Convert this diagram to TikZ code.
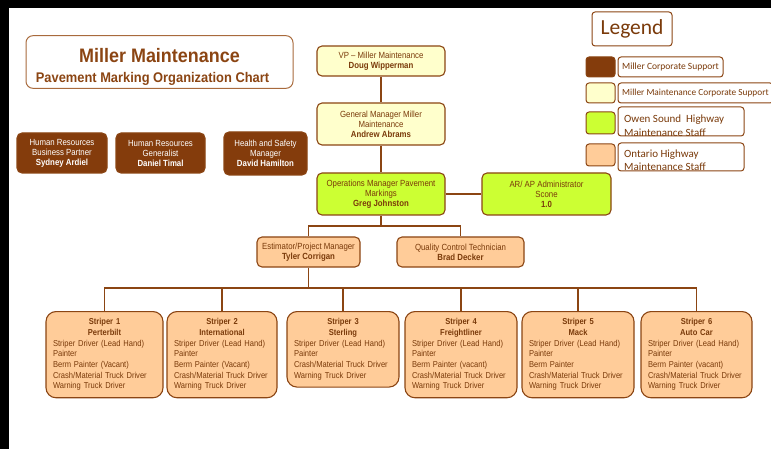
\documentclass[tikz,border=0pt]{standalone}
\usepackage{fontspec}
\setmainfont{Liberation Sans}[FakeStretch=0.88]
\newfontfamily\headfont{Liberation Sans}[FakeStretch=0.92]
\newfontfamily\legendfont{Carlito}
\usepackage{tikz}
\usetikzlibrary{calc}

\definecolor{darkbrown}{HTML}{843C0C}
\definecolor{linebrown}{HTML}{8B4513}
\definecolor{txtbrown}{HTML}{7A3A0A}
\definecolor{framebrown}{HTML}{A86A3C}
\definecolor{paleyellow}{HTML}{FFFFCC}
\definecolor{limegreen}{HTML}{CCFF33}
\definecolor{peach}{HTML}{FFCC99}

\newcommand{\crewhead}[2]{{\centering\bfseries #1\\#2\par}}

\begin{document}
\begin{tikzpicture}[x=1pt, y=-1pt,
    box/.style={draw=linebrown, line width=1.1pt, rounded corners=5pt, text=txtbrown,
        font=\fontsize{8.9}{10}\selectfont, align=center, inner sep=1pt},
    vpbox/.style={box, fill=paleyellow, minimum width=128pt},
    opsbox/.style={box, fill=limegreen, minimum height=42pt},
    hrbox/.style={box, fill=darkbrown, text=white},
    techbox/.style={box, fill=peach, minimum height=30pt},
    crewbox/.style={box, fill=peach, rounded corners=10pt, anchor=north, align=left,
        font=\fontsize{8.6}{10.7}\selectfont, inner xsep=7pt, inner ysep=7pt},
    swatch/.style={draw=linebrown, line width=1pt, rounded corners=3pt, minimum width=29pt},
    legbox/.style={draw=linebrown, line width=1pt, rounded corners=3pt, fill=white},
    legtext/.style={text=txtbrown, align=left, inner sep=0pt},
    link/.style={draw=linebrown, line width=1.2pt}
]
    \useasboundingbox (0,0) rectangle (771,449);
    \fill[black] (0,0) rectangle (771,8);
    \fill[black] (0,0) rectangle (9,449);

    % title
    \node[draw=framebrown, line width=1pt, rounded corners=7pt, text=linebrown, align=center,
        minimum width=267pt, minimum height=52pt] (title) at (159.5,62)
        {{\headfont\bfseries\fontsize{19.5}{21}\selectfont\rule{0pt}{23pt}Miller Maintenance}\\[8pt]
         {\headfont\bfseries\fontsize{14}{16}\selectfont Pavement Marking Organization Chart\hspace*{14pt}}};

    % management chain
    \node[vpbox, minimum height=30pt] (vp) at (381,61) {VP -- Miller Maintenance\\\textbf{Doug Wipperman}};
    \node[vpbox, minimum height=42pt] (gm) at (381,124) {General Manager Miller\\Maintenance\\\textbf{Andrew Abrams}};
    \node[opsbox, minimum width=128pt] (ops) at (381,194) {Operations Manager Pavement\\Markings\\\textbf{Greg Johnston}};
    \node[opsbox, minimum width=129pt] (ar) at (546.5,194) {AR/ AP Administrator\\Scone\\\textbf{1.0}};
    \node[techbox, minimum width=103pt] (est) at (308.5,252) {Estimator/Project Manager\\\textbf{Tyler Corrigan}};
    \node[techbox, minimum width=127pt] (qc) at (460.5,252) {Quality Control Technician\\\textbf{Brad Decker}};

    % corporate support
    \node[hrbox, minimum width=90pt, minimum height=40pt] (hr1) at (62,153) {Human Resources\\Business Partner\\\textbf{Sydney Ardiel}};
    \node[hrbox, minimum width=89pt, minimum height=40pt] (hr2) at (160.5,153) {Human Resources\\Generalist\\\textbf{Daniel Timal}};
    \node[hrbox, minimum width=83pt, minimum height=43pt] (hs) at (265.5,153.5) {Health and Safety\\Manager\\\textbf{David Hamilton}};

    % striper crews
    \node[crewbox, text width=103pt] (s1) at (104.5,311) {\crewhead{Striper 1}{Perterbilt}
        Striper Driver (Lead Hand)\\Painter\\Berm Painter (Vacant)\\Crash/Material Truck Driver\\Warning Truck Driver};
    \node[crewbox, text width=96pt] (s2) at (222,311) {\crewhead{Striper 2}{International}
        Striper Driver (Lead Hand)\\Painter\\Berm Painter (Vacant)\\Crash/Material Truck Driver\\Warning Truck Driver};
    \node[crewbox, text width=98pt] (s3) at (343,311) {\crewhead{Striper 3}{Sterling}
        Striper Driver (Lead Hand)\\Painter\\Crash/Material Truck Driver\\Warning Truck Driver};
    \node[crewbox, text width=98pt] (s4) at (461,311) {\crewhead{Striper 4}{Freightliner}
        Striper Driver (Lead Hand)\\Painter\\Berm Painter (vacant)\\Crash/Material Truck Driver\\Warning Truck Driver};
    \node[crewbox, text width=98pt] (s5) at (578,311) {\crewhead{Striper 5}{Mack}
        Striper Driver (Lead Hand)\\Painter\\Berm Painter\\Crash/Material Truck Driver\\Warning Truck Driver};
    \node[crewbox, text width=97pt] (s6) at (696.5,311) {\crewhead{Striper 6}{Auto Car}
        Striper Driver (Lead Hand)\\Painter\\Berm Painter (vacant)\\Crash/Material Truck Driver\\Warning Truck Driver};

    % legend
    \node[legbox, minimum width=80pt, minimum height=34pt, text=txtbrown,
        font=\legendfont\fontsize{21.5}{24}\selectfont] (legend) at (632,29) {Legend};
    \node[swatch, fill=darkbrown, minimum height=20pt] (sw1) at (600.5,67) {};
    \node[legbox, minimum width=105pt, minimum height=20pt] (lb1) at (670.5,67) {};
    \node[legtext, anchor=west, font=\legendfont\fontsize{9.5}{11}\selectfont] (lt1) at (622,67) {Miller Corporate Support};
    \node[swatch, fill=paleyellow, minimum height=20pt] (sw2) at (600.5,93) {};
    \node[legbox, minimum width=155pt, minimum height=20pt] (lb2) at (695.5,93) {};
    \node[legtext, anchor=west, font=\legendfont\fontsize{9.3}{11}\selectfont] (lt2) at (622,93) {Miller Maintenance Corporate Support};
    \node[swatch, fill=limegreen, minimum height=22pt] (sw3) at (600.5,123) {};
    \node[legbox, minimum width=126pt, minimum height=29pt] (lb3) at (681,121.5) {};
    \node[legtext, anchor=west, font=\legendfont\fontsize{11}{14}\selectfont] (lt3) at (624,125.5) {Owen Sound\ \ Highway\\Maintenance Staff};
    \node[swatch, fill=peach, minimum height=22pt] (sw4) at (600.5,155) {};
    \node[legbox, minimum width=126pt, minimum height=28pt] (lb4) at (681,157) {};
    \node[legtext, anchor=west, font=\legendfont\fontsize{11}{12.5}\selectfont] (lt4) at (624,160) {Ontario Highway\\Maintenance Staff};

    % reporting lines
    \draw[link] (vp) -- (gm);
    \draw[link] (gm) -- (ops);
    \draw[link] (ops) -- (ar);
    \coordinate (split) at (381,226);
    \draw[link] (ops) -- (split);
    \draw[link] (est.north) |- (split) -| (qc.north);
    \coordinate (bus) at (308.5,288);
    \draw[link] (est) -- (bus);
    \draw[link] (s1.north) |- (bus) -| (s6.north);
    \foreach \s in {s2,s3,s4,s5}
        \draw[link] (\s.north) -- (\s.north |- bus);
\end{tikzpicture}
\end{document}
